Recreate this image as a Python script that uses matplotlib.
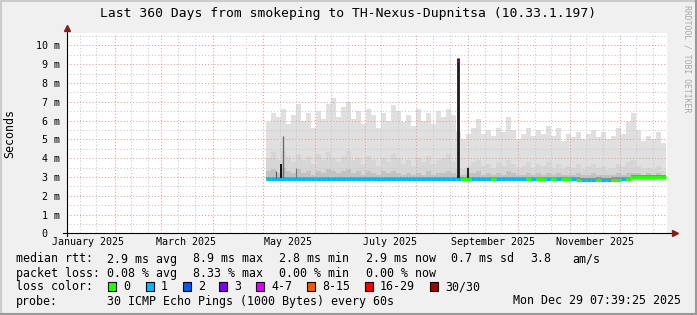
import datetime as dt
import numpy as np
import matplotlib
matplotlib.use("Agg")
import matplotlib.pyplot as plt
import matplotlib.dates as mdates

W, H = 697, 315
MONO = "DejaVu Sans Mono"

# time window of the graph
T_START = dt.datetime(2025, 1, 3, 7, 39, 25)
T_END = dt.datetime(2025, 12, 29, 7, 39, 25)

# smoke samples, every 3 days from 2 May (ms)
FIRST_SAMPLE = dt.datetime(2025, 5, 2, 12)
STEP_DAYS = 3
smoke_top = [5.9, 6.4, 6.2, 6.6, 5.8, 6.3, 6.9, 6.0, 6.4, 5.6,
             6.5, 6.1, 6.9, 7.2, 6.2, 6.7, 7.0, 6.1, 6.5, 5.8,
             6.6, 6.3, 5.6, 6.4, 6.0, 6.8, 6.5, 5.9, 6.3, 5.7,
             6.6, 6.0, 6.4, 5.8, 6.5, 6.2, 6.6, 6.3, 5.4, 5.0,
             5.3, 5.6, 6.1, 5.3, 5.5, 5.2, 5.6, 5.4, 6.2, 5.5,
             5.0, 5.3, 5.6, 5.2, 5.5, 5.3, 5.7, 5.2, 5.6, 4.9,
             5.3, 5.1, 5.4, 5.0, 5.3, 5.5, 5.1, 5.4, 5.0, 5.2,
             5.6, 5.3, 5.9, 6.4, 5.5, 4.9, 5.2, 5.0, 5.4, 4.8]
smoke_mid = [4.0, 4.3, 3.9, 4.4, 4.1, 3.8, 4.2, 3.9, 4.1, 3.7,
             4.2, 3.9, 4.3, 4.0, 3.8, 4.1, 4.4, 3.9, 4.0, 3.7,
             4.1, 3.9, 3.6, 4.0, 3.8, 4.2, 4.0, 3.7, 3.9, 3.6,
             4.0, 3.8, 4.1, 3.7, 3.9, 4.0, 4.2, 3.8, 3.5, 3.4,
             3.6, 3.8, 3.9, 3.6, 3.7, 3.5, 3.8, 3.6, 3.9, 3.7,
             3.5, 3.6, 3.8, 3.5, 3.7, 3.6, 3.8, 3.5, 3.7, 3.4,
             3.6, 3.5, 3.7, 3.4, 3.6, 3.7, 3.5, 3.6, 3.4, 3.5,
             3.7, 3.6, 3.8, 3.9, 3.6, 3.4, 3.5, 3.4, 3.6, 3.3]
smoke_low = [3.3, 3.4, 3.2, 3.5, 3.3, 3.2, 3.4, 3.2, 3.3, 3.1,
             3.3, 3.2, 3.4, 3.3, 3.2, 3.3, 3.4, 3.2, 3.3, 3.1,
             3.3, 3.2, 3.1, 3.3, 3.2, 3.3, 3.2, 3.1, 3.2, 3.1,
             3.2, 3.1, 3.3, 3.1, 3.2, 3.2, 3.3, 3.2, 3.1, 3.1,
             3.2, 3.2, 3.3, 3.1, 3.2, 3.1, 3.2, 3.1, 3.3, 3.2,
             3.1, 3.1, 3.2, 3.1, 3.2, 3.1, 3.2, 3.1, 3.2, 3.1,
             3.1, 3.1, 3.2, 3.1, 3.1, 3.2, 3.1, 3.1, 3.1, 3.1,
             3.2, 3.1, 3.2, 3.2, 3.2, 3.1, 3.2, 3.1, 3.2, 3.1]
smoke_floor = 2.76
median = [2.88] * 62 + [2.85, 2.84, 2.84, 2.84, 2.85, 2.84, 2.84, 2.85,
                        2.86, 2.87, 2.90] + [2.97] * 7
loss = [1, 1, 1, 1, 1, 1, 1, 1, 1, 1,
        1, 1, 1, 1, 1, 1, 1, 1, 1, 1,
        1, 1, 1, 1, 1, 1, 1, 1, 1, 1,
        1, 1, 1, 1, 1, 1, 1, 1, 1, 0,
        0, 1, 1, 1, 1, 0, 1, 1, 1, 1,
        1, 1, 0, 1, 0, 0, 1, 0, 1, 0,
        0, 1, 0, 1, 1, 1, 0, 1, 1, 0,
        0, 1, 0, 0, 0, 0, 0, 0, 0, 0]

# isolated spikes of the median / dark smoke
spike_dates = [dt.datetime(2025, 5, 9), dt.datetime(2025, 5, 12), dt.datetime(2025, 5, 13),
               dt.datetime(2025, 5, 21), dt.datetime(2025, 8, 26), dt.datetime(2025, 9, 1)]
spike_tops = [3.3, 3.7, 5.2, 3.5, 9.3, 3.5]
spike_colors = ["#555555", "#111111", "#6a6a6a", "#777777", "#1a1a1a", "#222222"]
spike_widths = [0.8, 1.4, 1.0, 0.8, 2.0, 1.4]

loss_labels = ["0", "1", "2", "3", "4-7", "8-15", "16-29", "30/30"]
loss_colors = ["#26ff00", "#00b8ff", "#0059ff", "#7e00ff", "#dd00ff", "#ff5500", "#ff0000", "#a10000"]

y_ticks = [0, 1, 2, 3, 4, 5, 6, 7, 8, 9, 10]
y_tick_labels = ["0  ", "1 m", "2 m", "3 m", "4 m", "5 m", "6 m", "7 m", "8 m", "9 m", "10 m"]
x_label_dates = [dt.datetime(2025, m, 16) for m in (1, 3, 5, 7, 9, 11)]
x_label_text = ["January 2025", "March 2025", "May 2025", "July 2025",
                "September 2025", "November 2025"]

fig = plt.figure(figsize=(W / 100, H / 100), dpi=100, facecolor="#f0f0f0")
ax = fig.add_axes([67 / W, (H - 233.3) / H, 600 / W, 200 / H])
ax.set_facecolor("white")
ax.set_xlim(mdates.date2num(T_START), mdates.date2num(T_END))
ax.set_ylim(0, 10.64)
for s in ax.spines.values():
    s.set_visible(False)

n = len(smoke_top)
edges = mdates.date2num(FIRST_SAMPLE) + STEP_DAYS * np.arange(n + 1)
ext = lambda v: np.append(v, v[-1])
med = np.array(median)
ax.fill_between(edges, smoke_floor, ext(np.array(smoke_top)), step="post", color="#e0e0e0", lw=0, zorder=1)
ax.fill_between(edges, smoke_floor, ext(np.array(smoke_mid)), step="post", color="#d6d6d6", lw=0, zorder=1)
ax.fill_between(edges, ext(med), ext(np.array(smoke_low)), step="post", color="#c2c2c2", lw=0, zorder=1)
ax.fill_between(edges, ext(med), ext(med + 0.12), step="post", color="#8c8c8c", lw=0, zorder=1)

# grid
for v in np.arange(0.5, 10.6, 0.5):
    major = float(v).is_integer()
    ax.axhline(v, color="#e59a9a" if major else "#c8c8c8", lw=0.75, ls=(0, (1, 2)), zorder=2)
for m in range(1, 13):
    for d in (1, 11, 21):
        t = mdates.date2num(dt.datetime(2025, m, d))
        ax.axvline(t, color="#e59a9a" if d == 1 else "#c8c8c8", lw=0.75, ls=(0, (1, 2)), zorder=2)

# spikes then median line coloured by loss
for d, top, c, w in zip(spike_dates, spike_tops, spike_colors, spike_widths):
    ax.vlines(mdates.date2num(d), 2.88, top, color=c, lw=w, zorder=3)
ax.plot(mdates.date2num(spike_dates[4]), 9.15, "s", ms=2, color="#7e00ff", mec="none", zorder=4)
for i in range(n):
    ax.hlines(median[i], edges[i], edges[i + 1], color=loss_colors[loss[i]], lw=2.3, zorder=4)

# axes ticks
ax.set_yticks(y_ticks)
ax.set_yticklabels(y_tick_labels, family=MONO, fontsize=7.2)
ax.set_xticks(mdates.date2num(x_label_dates))
ax.set_xticklabels(x_label_text, family=MONO, fontsize=7.2)
ax.tick_params(axis="y", length=0, pad=5)
ax.tick_params(axis="x", length=0, pad=3)

# axis lines with arrows
ax.plot([-0.006, 1.008], [0, 0], color="black", lw=0.8, transform=ax.transAxes, clip_on=False, zorder=5)
ax.plot([0, 0], [-0.015, 1.02], color="black", lw=0.8, transform=ax.transAxes, clip_on=False, zorder=5)
ax.plot(1.0125, 0, ">", ms=4, color="#8b1a1a", transform=ax.transAxes, clip_on=False, zorder=6)
ax.plot(0, 1.028, "^", ms=4, color="#8b1a1a", transform=ax.transAxes, clip_on=False, zorder=6)

def ftext(x, y, s, **kw):
    kw.setdefault("family", MONO)
    kw.setdefault("fontsize", 8.4)
    kw.setdefault("va", "center")
    return fig.text(x / W, 1 - y / H, s, **kw)

ftext(348.5, 13, "Last 360 Days from smokeping to TH-Nexus-Dupnitsa (10.33.1.197)",
      ha="center", fontsize=9.4)
ftext(10, 133, "Seconds", rotation=90, ha="center")
ftext(686.7, 59, "RRDTOOL / TOBI OETIKER", rotation=270, ha="center",
      fontsize=5.9, color="#a8a8a8")

rows = [
    (259, [(16, "median rtt:"), (107, "2.9 ms avg"), (193, "8.9 ms max"), (279, "2.8 ms min"),
           (366, "2.9 ms now"), (451, "0.7 ms sd"), (530, "3.8"), (572, "am/s")]),
    (273.3, [(16, "packet loss:"), (107, "0.08 % avg"), (193, "8.33 % max"),
             (279, "0.00 % min"), (366, "0.00 % now")]),
    (301, [(16, "probe:"), (107, "30 ICMP Echo Pings (1000 Bytes) every 60s"),
           (512.7, "Mon Dec 29 07:39:25 2025")]),
]
for y, items in rows:
    for x, s in items:
        ftext(x, y, s)

ftext(16, 286.7, "loss color:")
box_x = [108.3, 145.7, 182.7, 219.3, 256, 307.3, 365, 430]
for bx, lab, col in zip(box_x, loss_labels, loss_colors):
    fig.patches.append(plt.Rectangle((bx / W, 1 - 291 / H), 8 / W, 9 / H, transform=fig.transFigure,
                                     facecolor=col, edgecolor="black", lw=0.8))
    ftext(bx + 15, 286.7, lab)

# 3d frame
fig.add_artist(plt.Line2D([0, 1], [1 - 0.5 / H] * 2, color="#cbcbcb", lw=1.5))
fig.add_artist(plt.Line2D([0.5 / W] * 2, [0, 1], color="#cbcbcb", lw=1.5))
fig.add_artist(plt.Line2D([0, 1], [1.5 / H] * 2, color="#999999", lw=1.5))
fig.add_artist(plt.Line2D([1 - 1.5 / W] * 2, [0, 1], color="#999999", lw=1.5))

fig.savefig("out.png", dpi=100, facecolor=fig.get_facecolor())
